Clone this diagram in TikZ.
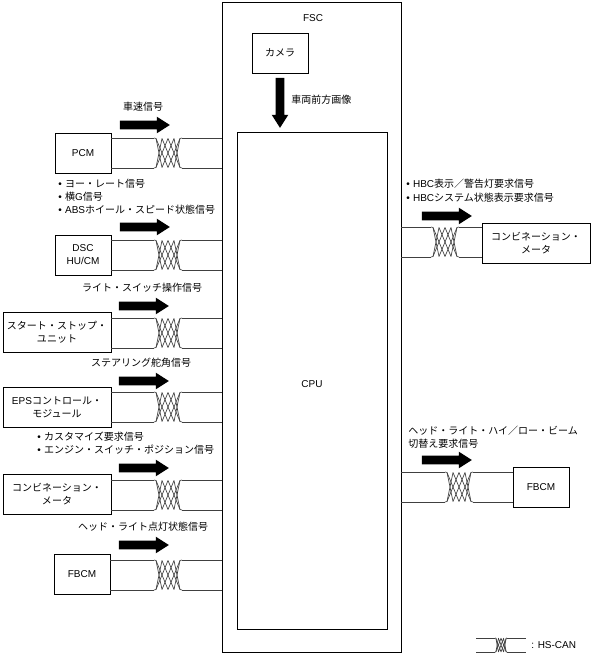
\documentclass[tikz,border=0pt]{standalone}
\usepackage{fontspec}
\usetikzlibrary{shapes.arrows}
\setmainfont{Liberation Sans}
\newfontfamily\jp{Noto Sans CJK JP}
\definecolor{wirecolor}{HTML}{404040}
\newcommand{\bul}{\textbullet\hspace{2.5pt}}
\newcommand{\canwire}[3]{\draw[wire] (#1 |- #2-tl) -- (#2-tl) (#1 |- #2-bl) -- (#2-bl) (#2-tr) -- (#3 |- #2-tr) (#2-br) -- (#3 |- #2-br);}
\tikzset{
  wire/.style={draw=wirecolor, line width=0.5pt, line join=round},
  ecubox/.style={draw, line width=0.7pt, minimum width=42pt, minimum height=30pt,
                 inner sep=0pt, align=center},
  widebox/.style={ecubox, minimum width=81pt},
  sigtext/.style={inner sep=0pt, align=center},
  siglist/.style={inner sep=0pt, align=left, anchor=west},
  sigarrow/.style={single arrow, fill=black, inner sep=3pt, minimum height=37.5pt,
                   single arrow head extend=3pt, single arrow tip angle=65,
                   single arrow head indent=0pt, outer sep=0pt},
  twisted/.pic={
    \coordinate (-tl) at (0,0);
    \coordinate (-bl) at (0,30);
    \coordinate (-tr) at (28,0);
    \coordinate (-br) at (28,30);
    \draw[wire] (0,0) -- (2,0.5) -- (14,29.5) -- (26,0.5) -- (28,0);
    \draw[wire] (0,30) -- (2,29.5) -- (14,0.5) -- (26,29.5) -- (28,30);
    \draw[wire] (2,29.5) -- (8,0.5) -- (20,29.5) -- (26,0.5);
    \draw[wire] (2,0.5) -- (8,29.5) -- (20,0.5) -- (26,29.5);
  },
}
\begin{document}
\begin{tikzpicture}[x=0.75pt, y=-0.75pt, font=\fontsize{7.5}{9.75}\selectfont]
    \useasboundingbox (0,0) rectangle (592,655);
    \node[draw, line width=0.7pt, minimum width=134.25pt, minimum height=487.5pt, inner sep=0pt] (fsc) at (311.5,327.5) {};
    \node[draw, line width=0.7pt, minimum width=112.5pt, minimum height=372.75pt, inner sep=0pt] (cpu) at (312,380.5) {};
    \node[sigtext] (cpulabel) at (312,384) {CPU};
    \node[sigtext] (fsclabel) at (313,18) {FSC};
    \node[ecubox] (camera) at (280,53) {{\jp カメラ}};
    \node[sigarrow, shape border rotate=270] (cameraarrow) at (280,99.5) {};
    \node[siglist] (cameratext) at (291,100) {{\jp 車両前方画像}};

    \node[ecubox] (pcm) at (83,153) {PCM};
    \node[ecubox] (dsc) at (83,255) {DSC\\HU/CM};
    \node[widebox] (start) at (57,332) {{\jp スタート・ストップ・}\\{\jp ユニット}};
    \node[widebox] (eps) at (57,407) {EPS{\jp コントロール・}\\{\jp モジュール}};
    \node[widebox] (combileft) at (57,494) {{\jp コンビネーション・}\\{\jp メータ}};
    \node[ecubox] (fbcmleft) at (82,574) {FBCM};
    \node[widebox] (combiright) at (536,243) {{\jp コンビネーション・}\\{\jp メータ}};
    \node[ecubox] (fbcmright) at (541,487) {FBCM};

    \pic (tw1) at (154,138) {twisted};
    \pic (tw2) at (154,240) {twisted};
    \pic (tw3) at (154,318) {twisted};
    \pic (tw4) at (154,392) {twisted};
    \pic (tw5) at (154,480) {twisted};
    \pic (tw6) at (154,560) {twisted};
    \pic (tw7) at (431,227) {twisted};
    \pic (tw8) at (445,472) {twisted};
    \pic[xscale=0.43, yscale=0.47] (tw9) at (495,638) {twisted};

    \canwire{pcm.east}{tw1}{fsc.west}
    \canwire{dsc.east}{tw2}{fsc.west}
    \canwire{start.east}{tw3}{fsc.west}
    \canwire{eps.east}{tw4}{fsc.west}
    \canwire{combileft.east}{tw5}{fsc.west}
    \canwire{fbcmleft.east}{tw6}{fsc.west}
    \canwire{fsc.east}{tw7}{combiright.west}
    \canwire{fsc.east}{tw8}{fbcmright.west}
    \coordinate (legendl) at (476,638);
    \coordinate (legendr) at (526,638);
    \canwire{legendl}{tw9}{legendr}
    \node[siglist] (legendtext) at (531,645) {: HS-CAN};

    \node[sigarrow] (arrow1) at (141.5,125) {};
    \node[sigarrow] (arrow2) at (141.5,227) {};
    \node[sigarrow] (arrow3) at (140.5,306) {};
    \node[sigarrow] (arrow4) at (140.5,381) {};
    \node[sigarrow] (arrow5) at (140.5,468) {};
    \node[sigarrow] (arrow6) at (140.5,545) {};
    \node[sigarrow] (arrow7) at (443.5,216) {};
    \node[sigarrow] (arrow8) at (443.5,460) {};

    \node[sigtext] (sig1) at (143,107) {{\jp 車速信号}};
    \node[siglist] (sig2) at (58,197) {\bul{\jp ヨー・レート信号}\\\bul{\jp 横}G{\jp 信号}\\\bul ABS{\jp ホイール・スピード状態信号}};
    \node[sigtext] (sig3) at (142,288) {{\jp ライト・スイッチ操作信号}};
    \node[sigtext] (sig4) at (141,363) {{\jp ステアリング舵角信号}};
    \node[siglist] (sig5) at (37,443.5) {\bul{\jp カスタマイズ要求信号}\\\bul{\jp エンジン・スイッチ・ポジション信号}};
    \node[sigtext] (sig6) at (143,527) {{\jp ヘッド・ライト点灯状態信号}};
    \node[siglist] (sig7) at (406,191) {\bul HBC{\jp 表示／警告灯要求信号}\\[1pt]\bul HBC{\jp システム状態表示要求信号}};
    \node[siglist] (sig8) at (408,437) {{\jp ヘッド・ライト・ハイ／ロー・ビーム}\\{\jp 切替え要求信号}};
  \end{tikzpicture}
\end{document}
